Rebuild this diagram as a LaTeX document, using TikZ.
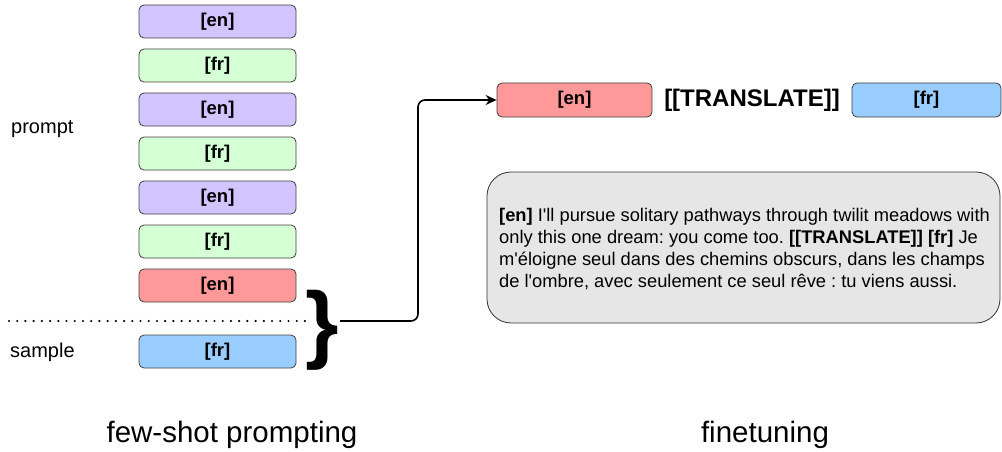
\documentclass[tikz,border=0pt]{standalone}
\usepackage{fontspec}
\setmainfont{Liberation Sans}
\usetikzlibrary{arrows.meta}
\definecolor{cEn}{HTML}{D1C4FF}
\definecolor{cFr}{HTML}{D5FFD5}
\definecolor{cRed}{HTML}{FF9999}
\definecolor{cBlue}{HTML}{99CCFF}
\definecolor{cGray}{HTML}{E6E6E6}
\frenchspacing
\begin{document}
\begin{tikzpicture}[x=1pt,y=-1pt,
  box/.style={draw=black!75, line width=0.8pt, rounded corners=5pt, minimum width=157pt, minimum height=33pt, inner sep=0pt, font=\fontsize{18.5}{20}\selectfont\bfseries},
  enbox/.style={box, fill=cEn},
  frbox/.style={box, fill=cFr},
  redbox/.style={box, fill=cRed},
  bluebox/.style={box, fill=cBlue},
  lbl/.style={inner sep=0pt, font=\fontsize{20}{22}\selectfont},
  big/.style={inner sep=0pt, font=\fontsize{29.5}{32}\selectfont}]
\useasboundingbox (0,0) rectangle (1002,452);
% left column
\node[enbox] (p1) at (217.5,21.5) {[en]};
\node[frbox] (p2) at (217.5,65.5) {[fr]};
\node[enbox] (p3) at (217.5,109.5) {[en]};
\node[frbox] (p4) at (217.5,153.5) {[fr]};
\node[enbox] (p5) at (217.5,197.5) {[en]};
\node[frbox] (p6) at (217.5,241.5) {[fr]};
\node[redbox] (p7) at (217.5,285.5) {[en]};
\node[bluebox] (s1) at (217.5,351.5) {[fr]};
\node[lbl, anchor=west] (lp) at (11,129) {prompt};
\node[lbl, anchor=west] (ls) at (10,352) {sample};
\coordinate (d1) at (9,321);
\coordinate (d2) at (305,321);
\draw[line width=2.4pt, line cap=round, dash pattern=on 0pt off 8.22pt] (d1) -- (d2);
\node[inner sep=0pt, font=\fontsize{86}{86}\selectfont\bfseries] (br) at (322,330) {\}};
% arrow
\coordinate (bs) at (340,321);
% right
\node[redbox, minimum width=155pt, minimum height=34pt] (r1) at (574.5,100) {[en]};
\node[inner sep=0pt, font=\fontsize{24}{26}\selectfont\bfseries] (tr) at (752,100) {[[TRANSLATE]]};
\node[bluebox, minimum width=149pt, minimum height=34pt] (r2) at (926.5,100) {[fr]};
\draw[line width=1.6pt, rounded corners=7pt, -{Stealth[length=11pt,width=10pt]}] (bs) -- ++(78,0) |- (r1.west);
\node[draw=black!80, line width=0.8pt, fill=cGray, rounded corners=24pt, minimum width=513pt, minimum height=151pt] (gb) at (743.5,247.5) {};
\node[anchor=west, inner sep=0pt, align=left, font=\fontsize{18.3}{22}\selectfont] (gt) at (499,249)
 {\textbf{[en]} I\textquotesingle ll pursue solitary pathways through twilit meadows with\\
  only this one dream: you come too. \textbf{[[TRANSLATE]] [fr]} Je\\
  m\textquotesingle éloigne seul dans des chemins obscurs, dans les champs\\
  de l\textquotesingle ombre, avec seulement ce seul rêve : tu viens aussi.};
\node[big] (fs) at (232,435) {few-shot prompting};
\node[big] (ft) at (765,435) {finetuning};
\end{tikzpicture}
\end{document}
